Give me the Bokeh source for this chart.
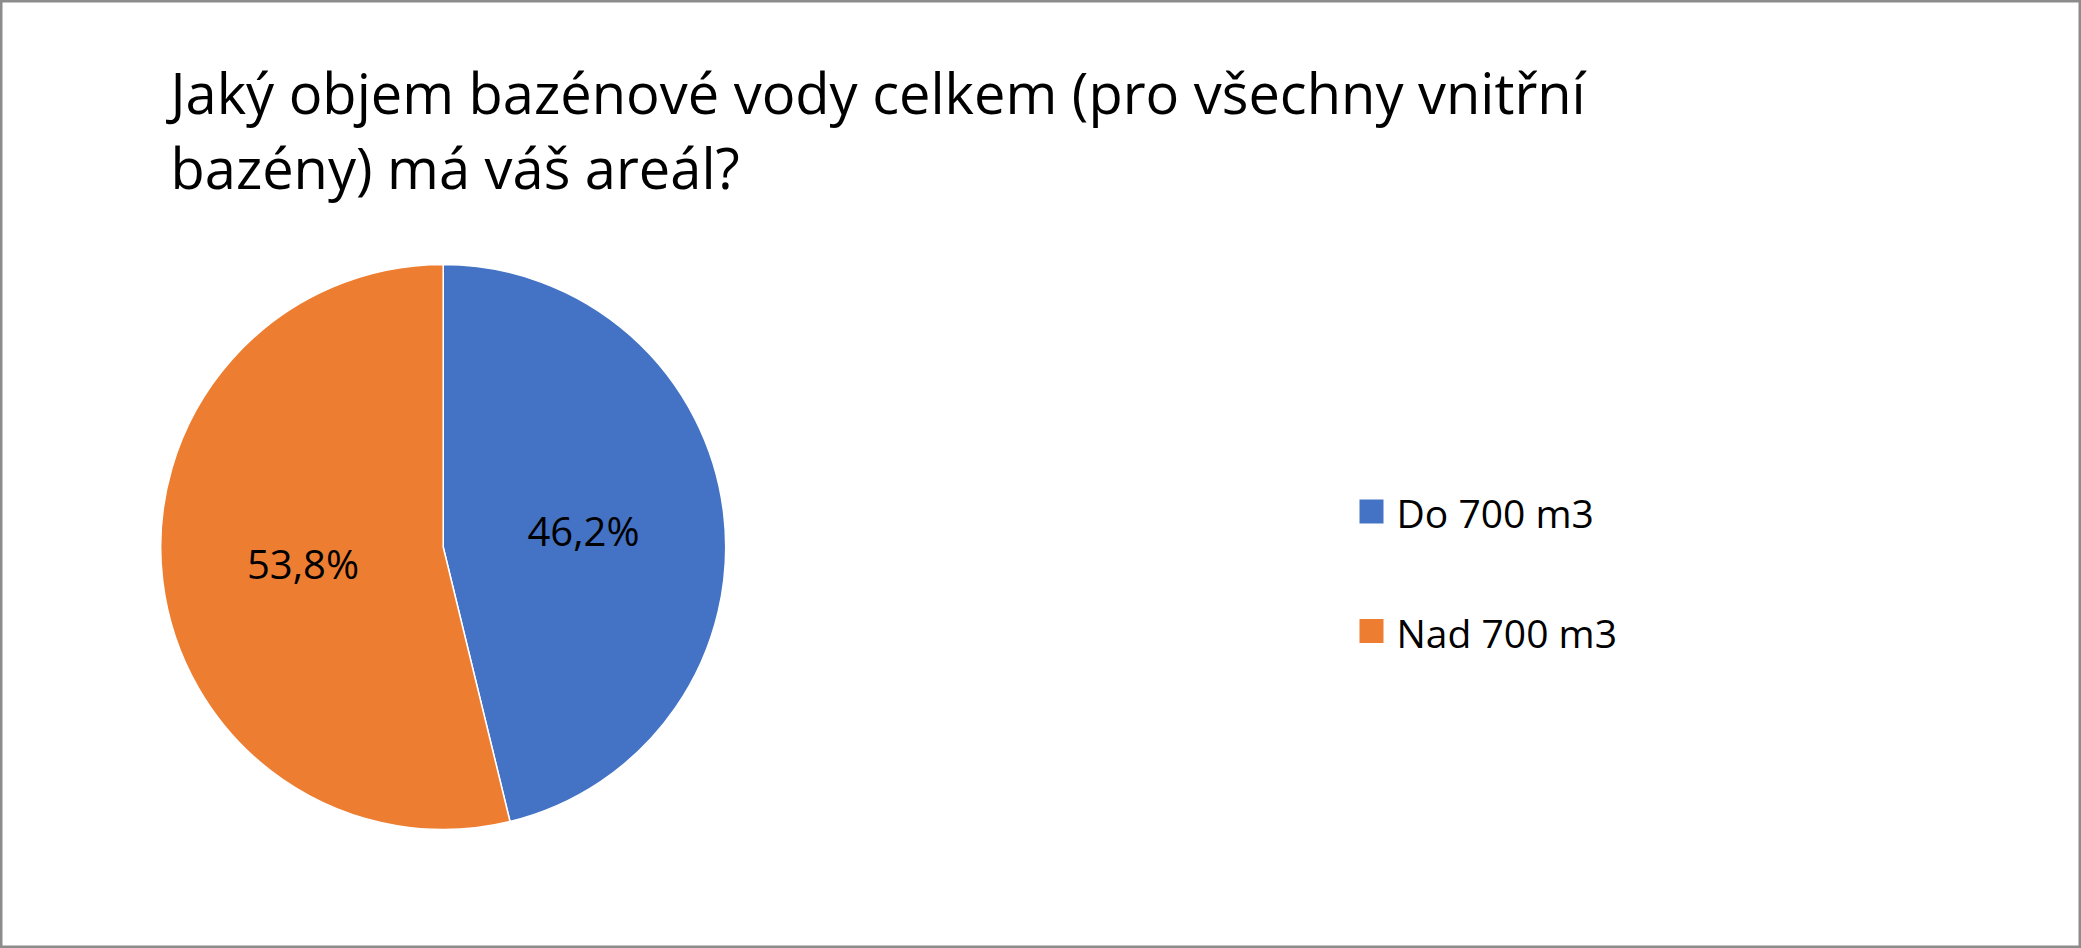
import math
from bokeh.plotting import figure
from bokeh.models import Range1d, ColumnDataSource
from bokeh.core.properties import value
from bokeh.embed import file_html
from bokeh.resources import INLINE

# ---- data ----
title_lines = ["Jaký objem bazénové vody celkem (pro všechny vnitřní",
               "bazény) má váš areál?"]
categories = ["Do 700 m3", "Nad 700 m3"]
shares = [46.2, 53.8]
colors = ["#4472C4", "#ED7D31"]

W, H = 2081, 948
FONT = "Open Sans"
SHIFT = 12  # compensation for baseline placement

p = figure(width=W, height=H, output_backend="svg", toolbar_location=None,
           x_range=Range1d(0, W), y_range=Range1d(0, H),
           min_border=0, min_border_left=0, min_border_right=0,
           min_border_top=0, min_border_bottom=0)
p.axis.visible = False
p.grid.visible = False
p.outline_line_color = "#8C8C8C"
p.outline_line_width = 4
p.background_fill_color = "white"
p.border_fill_color = "white"

# ---- pie ----
cx, cy, r = 442.7, H - 546.5, 282.5
total = sum(shares)
starts, ends, lx, ly, labels = [], [], [], [], []
acc = 0.0
for v in shares:
    a0 = math.pi / 2 - 2 * math.pi * acc / total
    a1 = math.pi / 2 - 2 * math.pi * (acc + v) / total
    starts.append(a0)
    ends.append(a1)
    mid = (a0 + a1) / 2
    lx.append(cx + 0.5 * r * math.cos(mid))
    ly.append(cy + 0.5 * r * math.sin(mid))
    labels.append(f"{v:.1f}".replace(".", ",") + "%")
    acc += v

src = ColumnDataSource(dict(start=starts, end=ends, color=colors, cat=categories))
p.wedge(x=cx, y=cy, radius=r, start_angle="start", end_angle="end",
        direction="clock", fill_color="color", line_color="white",
        line_width=1.5, source=src)

p.text(x=lx, y=ly, text=labels, text_font=value(FONT), text_font_size="40px",
       text_color="black", text_align="center", text_baseline="middle")

# ---- title ----
p.text(x=[170, 170], y=[H - 103 + SHIFT, H - 178 + SHIFT], text=title_lines,
       text_font=value(FONT), text_font_size="56px", text_color="black",
       text_align="left", text_baseline="alphabetic")

# ---- legend ----
leg_y = [H - 511 - i * 119.5 for i in range(len(categories))]
p.rect(x=[1371] * len(categories), y=leg_y, width=24, height=24,
       fill_color=colors, line_color=None)
p.text(x=[1396] * len(categories), y=[yy - 13 + SHIFT for yy in leg_y],
       text=categories, text_font=value(FONT), text_font_size="39px",
       text_color="black", text_align="left", text_baseline="alphabetic")

open("out.html", "w").write(file_html(p, INLINE))
